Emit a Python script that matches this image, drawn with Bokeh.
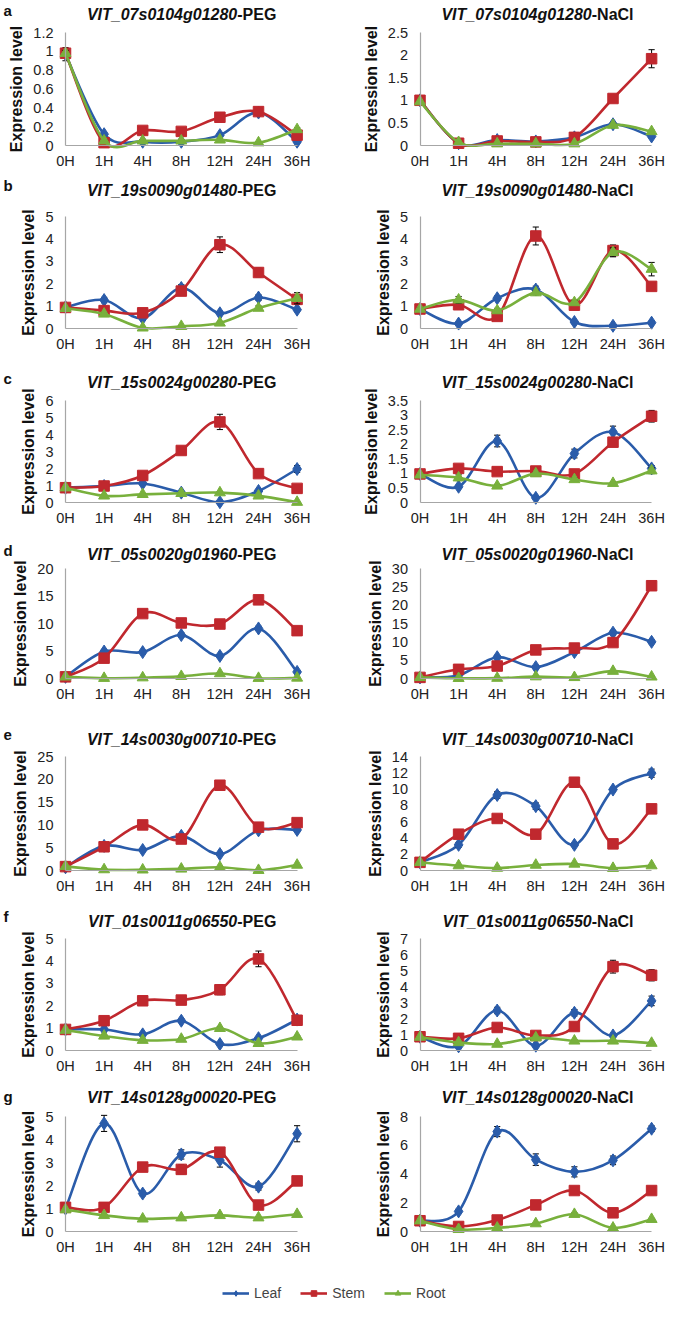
from bokeh.plotting import figure
from bokeh.layouts import column, row
from bokeh.models import (Range1d, FixedTicker, Label, Legend, LegendItem,
                          ColumnDataSource, CustomJSTickFormatter)
from bokeh.embed import file_html
from bokeh.resources import INLINE

times = ["0H", "1H", "4H", "8H", "12H", "24H", "36H"]
series_names = ["Leaf", "Stem", "Root"]

# ---------------- data ----------------
a_peg_leaf = [0.97, 0.12, 0.04, 0.04, 0.11, 0.35, 0.04]
a_peg_stem = [0.98, 0.03, 0.16, 0.15, 0.30, 0.36, 0.11]
a_peg_root = [0.98, 0.05, 0.05, 0.05, 0.06, 0.03, 0.17]
a_peg_leaf_err = [0.07, 0.01, 0.01, 0.01, 0.01, 0.03, 0.01]
a_peg_stem_err = [0.03, 0.01, 0.01, 0.01, 0.01, 0.02, 0.02]
a_peg_root_err = [0.03, 0.01, 0.01, 0.01, 0.01, 0.01, 0.02]
a_peg_ticks = [0, 0.2, 0.4, 0.6, 0.8, 1, 1.2]

a_nacl_leaf = [1.00, 0.05, 0.12, 0.09, 0.18, 0.47, 0.20]
a_nacl_stem = [1.00, 0.05, 0.10, 0.08, 0.18, 1.04, 1.92]
a_nacl_root = [0.97, 0.07, 0.04, 0.04, 0.04, 0.45, 0.31]
a_nacl_leaf_err = [0.03, 0.01, 0.01, 0.01, 0.02, 0.03, 0.02]
a_nacl_stem_err = [0.03, 0.01, 0.01, 0.01, 0.02, 0.05, 0.20]
a_nacl_root_err = [0.02, 0.01, 0.01, 0.01, 0.01, 0.04, 0.03]
a_nacl_ticks = [0, 0.5, 1, 1.5, 2, 2.5]

b_peg_leaf = [0.95, 1.27, 0.46, 1.81, 0.68, 1.38, 0.84]
b_peg_stem = [0.94, 0.80, 0.70, 1.67, 3.74, 2.50, 1.30]
b_peg_root = [0.90, 0.65, 0.03, 0.10, 0.25, 0.91, 1.35]
b_peg_leaf_err = [0.05, 0.12, 0.06, 0.15, 0.05, 0.12, 0.05]
b_peg_stem_err = [0.05, 0.05, 0.05, 0.10, 0.35, 0.20, 0.10]
b_peg_root_err = [0.05, 0.05, 0.02, 0.03, 0.05, 0.10, 0.25]
b_peg_ticks = [0, 1, 2, 3, 4, 5]

b_nacl_leaf = [0.87, 0.22, 1.35, 1.74, 0.29, 0.12, 0.26]
b_nacl_stem = [0.87, 1.06, 0.54, 4.13, 1.04, 3.48, 1.88]
b_nacl_root = [0.87, 1.28, 0.80, 1.60, 1.16, 3.40, 2.65]
b_nacl_leaf_err = [0.05, 0.05, 0.10, 0.15, 0.05, 0.03, 0.05]
b_nacl_stem_err = [0.05, 0.10, 0.05, 0.40, 0.10, 0.25, 0.15]
b_nacl_root_err = [0.05, 0.15, 0.10, 0.10, 0.10, 0.20, 0.30]
b_nacl_ticks = [0, 1, 2, 3, 4, 5]

c_peg_leaf = [0.87, 0.97, 1.12, 0.58, 0.02, 0.68, 1.97]
c_peg_stem = [0.87, 0.97, 1.59, 3.06, 4.74, 1.70, 0.83]
c_peg_root = [0.87, 0.39, 0.48, 0.54, 0.58, 0.39, 0.02]
c_peg_leaf_err = [0.05, 0.05, 0.08, 0.05, 0.02, 0.05, 0.20]
c_peg_stem_err = [0.05, 0.10, 0.10, 0.20, 0.45, 0.10, 0.05]
c_peg_root_err = [0.05, 0.05, 0.05, 0.05, 0.05, 0.05, 0.02]
c_peg_ticks = [0, 1, 2, 3, 4, 5, 6]

c_nacl_leaf = [0.98, 0.54, 2.11, 0.16, 1.68, 2.42, 1.17]
c_nacl_stem = [0.98, 1.17, 1.06, 1.08, 0.98, 2.07, 2.96]
c_nacl_root = [0.95, 0.85, 0.57, 0.99, 0.79, 0.66, 1.09]
c_nacl_leaf_err = [0.05, 0.05, 0.20, 0.03, 0.15, 0.20, 0.10]
c_nacl_stem_err = [0.05, 0.05, 0.05, 0.05, 0.05, 0.15, 0.20]
c_nacl_root_err = [0.05, 0.10, 0.05, 0.05, 0.05, 0.05, 0.10]
c_nacl_ticks = [0, 0.5, 1, 1.5, 2, 2.5, 3, 3.5]

d_peg_leaf = [0.3, 4.9, 4.8, 7.9, 4.1, 9.1, 1.2]
d_peg_stem = [0.3, 3.7, 11.8, 10.1, 9.9, 14.3, 8.7]
d_peg_root = [0.3, 0.05, 0.15, 0.4, 0.9, 0.05, 0.1]
d_peg_leaf_err = [0.1, 0.3, 0.3, 0.4, 0.3, 0.4, 0.2]
d_peg_stem_err = [0.1, 0.3, 0.5, 0.4, 0.4, 0.5, 0.4]
d_peg_root_err = [0.1, 0.05, 0.05, 0.1, 0.1, 0.05, 0.05]
d_peg_ticks = [0, 5, 10, 15, 20]

d_nacl_leaf = [0.3, 0.9, 5.8, 3.1, 7.2, 12.5, 10.0]
d_nacl_stem = [0.3, 2.5, 3.4, 7.8, 8.3, 9.8, 25.3]
d_nacl_root = [0.3, 0.05, 0.1, 0.5, 0.3, 2.0, 0.45]
d_nacl_leaf_err = [0.1, 0.2, 0.4, 0.3, 0.4, 0.6, 0.5]
d_nacl_stem_err = [0.1, 0.3, 0.3, 0.4, 0.5, 0.5, 0.8]
d_nacl_root_err = [0.1, 0.05, 0.05, 0.1, 0.1, 0.2, 0.1]
d_nacl_ticks = [0, 5, 10, 15, 20, 25, 30]

e_peg_leaf = [0.7, 5.4, 4.5, 7.6, 3.6, 8.8, 8.9]
e_peg_stem = [0.85, 5.2, 10.0, 6.9, 18.7, 9.5, 10.5]
e_peg_root = [0.9, 0.2, 0.15, 0.35, 0.7, 0.05, 1.2]
e_peg_leaf_err = [0.1, 0.3, 0.3, 0.4, 0.3, 0.4, 0.4]
e_peg_stem_err = [0.1, 0.3, 0.5, 0.4, 0.6, 0.5, 0.5]
e_peg_root_err = [0.1, 0.05, 0.05, 0.05, 0.1, 0.05, 0.1]
e_peg_ticks = [0, 5, 10, 15, 20, 25]

e_nacl_leaf = [1.0, 3.15, 9.27, 7.9, 3.15, 9.94, 11.95]
e_nacl_stem = [1.0, 4.46, 6.39, 4.46, 10.84, 3.27, 7.57]
e_nacl_root = [1.0, 0.6, 0.3, 0.67, 0.8, 0.28, 0.6]
e_nacl_leaf_err = [0.1, 0.3, 0.4, 0.4, 0.2, 0.2, 0.5]
e_nacl_stem_err = [0.1, 0.2, 0.2, 0.2, 0.3, 0.2, 0.2]
e_nacl_root_err = [0.1, 0.05, 0.05, 0.05, 0.05, 0.05, 0.05]
e_nacl_ticks = [0, 2, 4, 6, 8, 10, 12, 14]

f_peg_leaf = [0.94, 0.94, 0.72, 1.33, 0.29, 0.55, 1.38]
f_peg_stem = [0.94, 1.33, 2.22, 2.25, 2.71, 4.09, 1.35]
f_peg_root = [0.91, 0.65, 0.46, 0.51, 0.99, 0.32, 0.61]
f_peg_leaf_err = [0.05, 0.05, 0.05, 0.08, 0.03, 0.05, 0.08]
f_peg_stem_err = [0.05, 0.08, 0.15, 0.15, 0.22, 0.35, 0.08]
f_peg_root_err = [0.05, 0.05, 0.03, 0.03, 0.08, 0.03, 0.05]
f_peg_ticks = [0, 1, 2, 3, 4, 5]

f_nacl_leaf = [0.86, 0.26, 2.50, 0.30, 2.36, 0.94, 3.10]
f_nacl_stem = [0.86, 0.76, 1.44, 0.94, 1.50, 5.24, 4.70]
f_nacl_root = [0.84, 0.50, 0.40, 0.80, 0.60, 0.60, 0.46]
f_nacl_leaf_err = [0.05, 0.05, 0.20, 0.05, 0.20, 0.05, 0.30]
f_nacl_stem_err = [0.05, 0.05, 0.10, 0.05, 0.10, 0.40, 0.35]
f_nacl_root_err = [0.05, 0.05, 0.05, 0.05, 0.05, 0.05, 0.05]
f_nacl_ticks = [0, 1, 2, 3, 4, 5, 6, 7]

g_peg_leaf = [1.00, 4.70, 1.65, 3.35, 3.10, 1.95, 4.25]
g_peg_stem = [1.05, 1.05, 2.80, 2.70, 3.45, 1.15, 2.20]
g_peg_root = [0.95, 0.70, 0.55, 0.60, 0.70, 0.60, 0.75]
g_peg_leaf_err = [0.05, 0.35, 0.10, 0.20, 0.30, 0.15, 0.35]
g_peg_stem_err = [0.05, 0.05, 0.15, 0.20, 0.20, 0.10, 0.10]
g_peg_root_err = [0.05, 0.05, 0.03, 0.03, 0.05, 0.03, 0.05]
g_peg_ticks = [0, 1, 2, 3, 4, 5]

g_nacl_leaf = [0.75, 1.40, 6.95, 5.00, 4.15, 4.95, 7.15]
g_nacl_stem = [0.75, 0.35, 0.80, 1.85, 2.85, 1.30, 2.85]
g_nacl_root = [0.75, 0.15, 0.25, 0.55, 1.20, 0.25, 0.85]
g_nacl_leaf_err = [0.05, 0.15, 0.35, 0.40, 0.35, 0.30, 0.20]
g_nacl_stem_err = [0.05, 0.05, 0.10, 0.10, 0.15, 0.10, 0.10]
g_nacl_root_err = [0.05, 0.03, 0.03, 0.05, 0.10, 0.03, 0.05]
g_nacl_ticks = [0, 2, 4, 6, 8]

genes = ["VIT_07s0104g01280", "VIT_19s0090g01480", "VIT_15s0024g00280",
         "VIT_05s0020g01960", "VIT_14s0030g00710", "VIT_01s0011g06550",
         "VIT_14s0128g00020"]
letters = ["a", "b", "c", "d", "e", "f", "g"]
conditions = ["PEG", "NaCl"]

panels = [
    [(a_peg_leaf, a_peg_stem, a_peg_root, a_peg_leaf_err, a_peg_stem_err, a_peg_root_err, a_peg_ticks),
     (a_nacl_leaf, a_nacl_stem, a_nacl_root, a_nacl_leaf_err, a_nacl_stem_err, a_nacl_root_err, a_nacl_ticks)],
    [(b_peg_leaf, b_peg_stem, b_peg_root, b_peg_leaf_err, b_peg_stem_err, b_peg_root_err, b_peg_ticks),
     (b_nacl_leaf, b_nacl_stem, b_nacl_root, b_nacl_leaf_err, b_nacl_stem_err, b_nacl_root_err, b_nacl_ticks)],
    [(c_peg_leaf, c_peg_stem, c_peg_root, c_peg_leaf_err, c_peg_stem_err, c_peg_root_err, c_peg_ticks),
     (c_nacl_leaf, c_nacl_stem, c_nacl_root, c_nacl_leaf_err, c_nacl_stem_err, c_nacl_root_err, c_nacl_ticks)],
    [(d_peg_leaf, d_peg_stem, d_peg_root, d_peg_leaf_err, d_peg_stem_err, d_peg_root_err, d_peg_ticks),
     (d_nacl_leaf, d_nacl_stem, d_nacl_root, d_nacl_leaf_err, d_nacl_stem_err, d_nacl_root_err, d_nacl_ticks)],
    [(e_peg_leaf, e_peg_stem, e_peg_root, e_peg_leaf_err, e_peg_stem_err, e_peg_root_err, e_peg_ticks),
     (e_nacl_leaf, e_nacl_stem, e_nacl_root, e_nacl_leaf_err, e_nacl_stem_err, e_nacl_root_err, e_nacl_ticks)],
    [(f_peg_leaf, f_peg_stem, f_peg_root, f_peg_leaf_err, f_peg_stem_err, f_peg_root_err, f_peg_ticks),
     (f_nacl_leaf, f_nacl_stem, f_nacl_root, f_nacl_leaf_err, f_nacl_stem_err, f_nacl_root_err, f_nacl_ticks)],
    [(g_peg_leaf, g_peg_stem, g_peg_root, g_peg_leaf_err, g_peg_stem_err, g_peg_root_err, g_peg_ticks),
     (g_nacl_leaf, g_nacl_stem, g_nacl_root, g_nacl_leaf_err, g_nacl_stem_err, g_nacl_root_err, g_nacl_ticks)],
]

# ---------------- style / layout ----------------
FONT = "Liberation Sans"
COLORS = {"Leaf": "#2a5caa", "Stem": "#c0282e", "Root": "#78b03c"}
MARKERS = {"Leaf": ("diamond", 13), "Stem": ("square", 10.5), "Root": ("triangle", 11)}
AXIS_GRAY = "#a6a6a6"
STEP = 38.6                      # pixels per category step
# row geometry in picture pixels: (row_top, row_bottom, title_center, top_tick, zero)
ROWS = [
    (0, 175, 14, 32, 145),
    (175, 368, 190, 216, 328),
    (368, 540, 382, 400, 502),
    (540, 724, 554, 568, 678),
    (724, 906, 739, 756, 870),
    (906, 1086, 921, 938, 1050),
    (1086, 1275, 1097, 1116, 1231),
]
SIDES = [dict(width=340, axis=65.0), dict(width=345, axis=79.5)]
TITLE_SPLIT = 4.45


def bezier_parts(ys):
    n = len(ys)
    xs = list(range(n))
    out = dict(x0=[], y0=[], x1=[], y1=[], cx0=[], cy0=[], cx1=[], cy1=[])
    for i in range(n - 1):
        ip = max(i - 1, 0)
        inn = min(i + 2, n - 1)
        out["x0"].append(xs[i]); out["y0"].append(ys[i])
        out["x1"].append(xs[i + 1]); out["y1"].append(ys[i + 1])
        out["cx0"].append(xs[i] + (xs[i + 1] - xs[ip]) / 6.0)
        out["cy0"].append(ys[i] + (ys[i + 1] - ys[ip]) / 6.0)
        out["cx1"].append(xs[i + 1] - (xs[inn] - xs[i]) / 6.0)
        out["cy1"].append(ys[i + 1] - (ys[inn] - ys[i]) / 6.0)
    return out


def make_panel(r, side):
    row_top, row_bot, title_c, top_px, zero_px = ROWS[r]
    leaf, stem, root, leaf_e, stem_e, root_e, ticks = panels[r][side]
    ymax = ticks[-1]
    ppu = (zero_px - top_px) / ymax
    height = row_bot - row_top
    sd = SIDES[side]
    xs0 = -sd["axis"] / STEP
    xs1 = xs0 + sd["width"] / STEP
    p = figure(width=sd["width"], height=height,
               x_range=Range1d(xs0, xs1),
               y_range=Range1d(-(row_bot - zero_px) / ppu, (zero_px - row_top) / ppu),
               output_backend="svg", toolbar_location=None,
               min_border_left=0, min_border_right=0, min_border_top=0, min_border_bottom=0)
    p.outline_line_color = None
    p.grid.visible = False
    p.background_fill_color = "white"
    p.border_fill_color = "white"

    n = len(times)
    xa = p.xaxis[0]
    ya = p.yaxis[0]
    xa.fixed_location = 0
    ya.fixed_location = 0
    xa.bounds = (0, n - 1)
    ya.bounds = (0, ymax)
    xa.ticker = FixedTicker(ticks=list(range(n)))
    xa.major_label_overrides = {i: t for i, t in enumerate(times)}
    ya.ticker = FixedTicker(ticks=ticks)
    ya.formatter = CustomJSTickFormatter(code="return tick.toString()")
    for ax in (xa, ya):
        ax.axis_line_color = AXIS_GRAY
        ax.axis_line_width = 1.2
        ax.major_tick_line_color = None
        ax.minor_tick_line_color = None
        ax.major_tick_out = 0
        ax.major_tick_in = 0
        ax.major_label_text_font = FONT
        ax.major_label_text_font_size = "14.5px"
        ax.major_label_text_color = "#222222"
    xa.major_label_standoff = 7
    ya.major_label_standoff = 12
    ya.axis_label = "Expression level"
    ya.axis_label_text_font = FONT
    ya.axis_label_text_font_size = "16px"
    ya.axis_label_text_font_style = "bold"
    ya.axis_label_text_color = "#111111"
    ya.axis_label_standoff = 5

    xs = list(range(n))
    for name, vals, errs in (("Leaf", leaf, leaf_e), ("Stem", stem, stem_e), ("Root", root, root_e)):
        col = COLORS[name]
        p.bezier(source=ColumnDataSource(bezier_parts(vals)), x0="x0", y0="y0", x1="x1", y1="y1",
                 cx0="cx0", cy0="cy0", cx1="cx1", cy1="cy1", line_color=col, line_width=2.6)
        lo = [v - e for v, e in zip(vals, errs)]
        hi = [v + e for v, e in zip(vals, errs)]
        p.segment(x0=xs, y0=lo, x1=xs, y1=hi, line_color="black", line_width=1)
        cap = 0.08
        p.segment(x0=[x - cap for x in xs], y0=hi, x1=[x + cap for x in xs], y1=hi,
                  line_color="black", line_width=1)
        p.segment(x0=[x - cap for x in xs], y0=lo, x1=[x + cap for x in xs], y1=lo,
                  line_color="black", line_width=1)
        mk, sz = MARKERS[name]
        p.scatter(x=xs, y=vals, marker=mk, size=sz, fill_color=col, line_color=col)

    # title (italic gene name + bold condition)
    y_title = ymax + (top_px - title_c) / ppu
    p.add_layout(Label(x=TITLE_SPLIT, y=y_title, text=genes[r], text_align="right",
                       text_baseline="middle", text_font=FONT, text_font_size="16px",
                       text_font_style="bold italic", text_color="#111111"))
    p.add_layout(Label(x=TITLE_SPLIT, y=y_title, text="-" + conditions[side], text_align="left",
                       text_baseline="middle", text_font=FONT, text_font_size="16px",
                       text_font_style="bold", text_color="#111111"))
    if side == 0:
        letter_px = max(title_c - 6, row_top + 10)
        p.add_layout(Label(x=xs0 + 3.0 / STEP, y=ymax + (top_px - letter_px) / ppu,
                           text=letters[r], text_align="left", text_baseline="middle",
                           text_font=FONT, text_font_size="15px", text_font_style="bold",
                           text_color="#111111"))
    return p


grid_rows = [row(make_panel(r, 0), make_panel(r, 1)) for r in range(len(ROWS))]

# legend strip
lg = figure(width=685, height=36, x_range=Range1d(0, 1), y_range=Range1d(0, 1),
            x_axis_type=None, y_axis_type=None, output_backend="svg", toolbar_location=None,
            min_border_left=0, min_border_right=0, min_border_top=0, min_border_bottom=0)
lg.outline_line_color = None
lg.grid.visible = False
items = []
for name in series_names:
    src = ColumnDataSource(dict(x=[-5, -4], y=[-5, -4]))
    r1 = lg.line("x", "y", source=src, line_color=COLORS[name], line_width=2.6)
    mk, sz = MARKERS[name]
    r2 = lg.scatter("x", "y", source=src, marker=mk, size=sz, fill_color=COLORS[name],
                    line_color=COLORS[name])
    items.append(LegendItem(label=name, renderers=[r1, r2]))
legend = Legend(items=items, orientation="horizontal", location=(222, 10),
                border_line_color=None, background_fill_alpha=0,
                label_text_font=FONT, label_text_font_size="14px",
                glyph_width=27, glyph_height=14, label_standoff=5, spacing=19,
                padding=0, margin=0)
lg.add_layout(legend, "center")

layout = column(*grid_rows, lg)
open("out.html", "w").write(file_html(layout, INLINE))
